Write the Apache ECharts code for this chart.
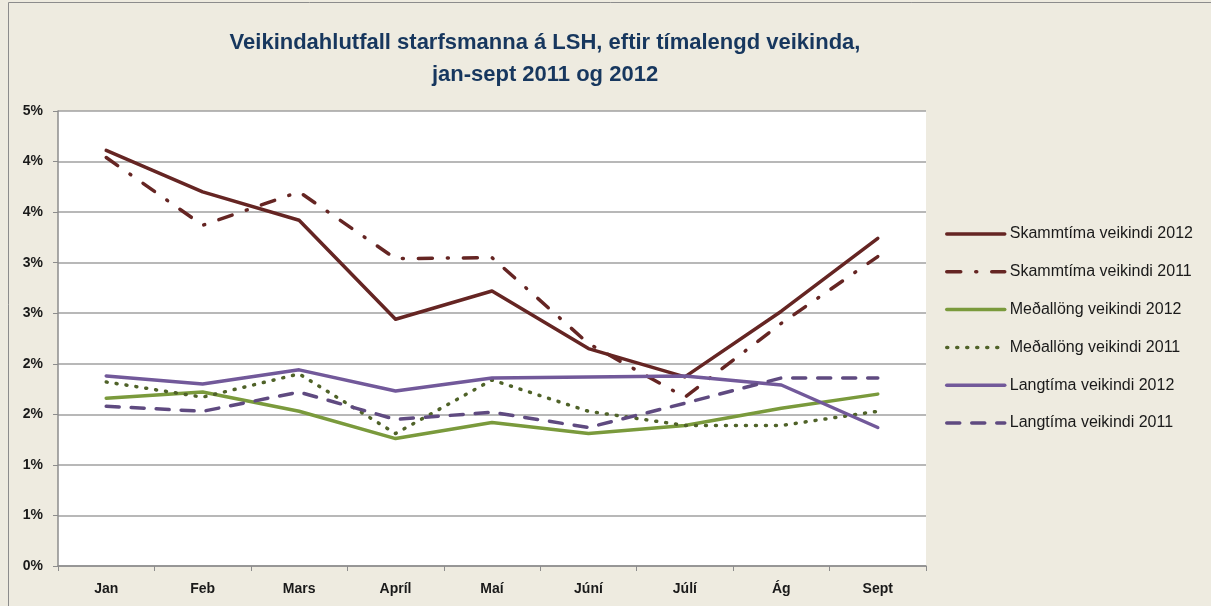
<!DOCTYPE html>
<html>
<head>
<meta charset="utf-8">
<script src="https://cdn.jsdelivr.net/npm/echarts@6/dist/echarts.min.js"></script>
<style>
  html, body { margin: 0; padding: 0; background: #eeebe0; }
  #chart { width: 1211px; height: 606px; }
</style>
</head>
<body>
<div id="chart"></div>
<script>
var months = ['Jan', 'Feb', 'Mars', 'Apríl', 'Maí', 'Júní', 'Júlí', 'Ág', 'Sept'];

var skamm2012 = [4.11, 3.70, 3.42, 2.44, 2.72, 2.15, 1.87, 2.52, 3.24];
var skamm2011 = [4.04, 3.37, 3.70, 3.04, 3.05, 2.20, 1.67, 2.40, 3.06];
var medal2012 = [1.66, 1.72, 1.53, 1.26, 1.42, 1.31, 1.39, 1.56, 1.70];
var medal2011 = [1.82, 1.67, 1.90, 1.31, 1.84, 1.53, 1.39, 1.39, 1.53];
var lang2012 = [1.88, 1.80, 1.94, 1.73, 1.86, 1.87, 1.88, 1.79, 1.37];
var lang2011 = [1.58, 1.53, 1.72, 1.45, 1.52, 1.37, 1.61, 1.86, 1.86];

var seriesNames = [
    'Skammtíma veikindi 2012',
    'Skammtíma veikindi 2011',
    'Meðallöng veikindi 2012',
    'Meðallöng veikindi 2011',
    'Langtíma veikindi 2012',
    'Langtíma veikindi 2011'
];

var font = "'Liberation Sans', sans-serif";

var chart = echarts.init(document.getElementById('chart'));

var makeLine = function(name, data, color, type, width) {
    return {
        name: name,
        type: 'line',
        data: data,
        symbol: 'none',
        smooth: false,
        lineStyle: {
            color: color,
            width: width,
            type: type,
            cap: 'round',
            join: 'round'
        },
        itemStyle: { color: color }
    };
};

var option = {
    backgroundColor: '#eeebe0',
    animation: false,
    title: {
        text: 'Veikindahlutfall starfsmanna á LSH, eftir tímalengd veikinda,\njan-sept 2011 og 2012',
        left: 540,
        textAlign: 'center',
        top: 22,
        textStyle: {
            fontFamily: font,
            fontWeight: 'bold',
            fontSize: 22,
            lineHeight: 32,
            color: '#17375e'
        }
    },
    graphic: [{
        type: 'rect',
        shape: { x: 8.5, y: 2.5, width: 1210, height: 610 },
        style: { fill: 'none', stroke: '#8c8c8c', lineWidth: 1 },
        silent: true
    }],
    legend: {
        orient: 'vertical',
        left: 945,
        top: 226,
        padding: 0,
        itemWidth: 58,
        itemHeight: 14,
        itemGap: 23.8,
        data: seriesNames,
        itemStyle: { opacity: 0 },
        lineStyle: { width: 'inherit' },
        textStyle: {
            fontFamily: font,
            fontSize: 16,
            color: '#1a1a1a'
        }
    },
    grid: {
        left: 58,
        right: 285,
        top: 111,
        bottom: 40,
        show: true,
        backgroundColor: '#ffffff',
        borderWidth: 0
    },
    xAxis: {
        type: 'category',
        data: months,
        boundaryGap: true,
        axisLine: { lineStyle: { color: '#8c8c8c', width: 1.5 } },
        axisTick: { show: true, length: 5, lineStyle: { color: '#8c8c8c' } },
        axisLabel: {
            margin: 16,
            fontFamily: font,
            fontWeight: 'bold',
            fontSize: 14,
            color: '#1a1a1a'
        }
    },
    yAxis: {
        type: 'value',
        min: 0,
        max: 4.5,
        interval: 0.5,
        axisLine: { show: true, lineStyle: { color: '#8c8c8c', width: 1.5 } },
        axisTick: { show: true, length: 5, lineStyle: { color: '#8c8c8c' } },
        splitLine: { lineStyle: { color: '#a0a0a0', width: 1.5 } },
        axisLabel: {
            margin: 15,
            fontFamily: font,
            fontWeight: 'bold',
            fontSize: 14,
            color: '#1a1a1a',
            formatter: function(v) {
                return Math.round(v) + '%';
            }
        }
    },
    series: [
        makeLine(seriesNames[0], skamm2012, '#652523', 'solid', 3.5),
        makeLine(seriesNames[1], skamm2011, '#652523', [14, 15, 1, 15], 3.5),
        makeLine(seriesNames[2], medal2012, '#7a9a3c', 'solid', 3.5),
        makeLine(seriesNames[3], medal2011, '#4f6228', [1, 9], 3.5),
        makeLine(seriesNames[4], lang2012, '#72599a', 'solid', 3.5),
        makeLine(seriesNames[5], lang2011, '#5f4a80', [13, 12], 3.5)
    ]
};

option.legend.itemGap = 21.8;

chart.setOption(option);
</script>
</body>
</html>
